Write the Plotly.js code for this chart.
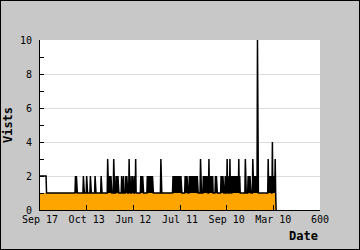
<!DOCTYPE html>
<html>
<head>
<meta charset="utf-8">
<script src="https://cdn.plot.ly/plotly-3.0.1.min.js"></script>
<style>
  html, body { margin: 0; padding: 0; background: #c8c8c8; }
  #chart { width: 358px; height: 248px; border: 1px solid #000; }
</style>
</head>
<body>
<div id="chart"></div>
<script>
// Day index of the last recorded day (visits drop to 0 there)
const lastDay = 506;
// Most days have 1 visit; these days differ
const daysAt2 = [0,1,2,3,4,5,6,7,8,9,10,11,12,13,
  76,78, 93,100,108,118,131, 148,150,152, 163,165,167, 175,179, 184,186,
  193,197,199, 203, 216,218,220, 230,232,234,237,239,241,
  285,287,289,291,293,296,298,300,302, 311,313,315,
  320,322,324,326,328,331,333,335,337, 350,352,354,356,358,
  364,366,368,370, 376,378, 388,390,392, 397,403,409,
  412,414,417,420,422,424, 428, 446,448,450, 459,461,463,
  491,493,495, 500,502];
const daysAt3 = [145,158,191,205,259,344,362,401,407,426,440,456,489,504];
const daysAt4 = [498];
const daysAt10 = [466];

const tickPositions = [0,100,200,300,400,500,600];
const tickLabels = ["Sep 17","Oct 13","Jun 12","Jul 11","Sep 10","Mar 10","600"];

const days = [];
const visits = [];
for (let d = 0; d <= lastDay; d++) { days.push(d); visits.push(1); }
daysAt2.forEach(d => visits[d] = 2);
daysAt3.forEach(d => visits[d] = 3);
daysAt4.forEach(d => visits[d] = 4);
daysAt10.forEach(d => visits[d] = 10);
visits[lastDay] = 0;
const base = visits.map(v => Math.min(v, 1));

const mono = 'DejaVu Sans Mono, monospace';

const traces = [
  { x: days, y: base, type: 'scatter', mode: 'lines', fill: 'tozeroy',
    fillcolor: '#ffa500', line: { width: 0, color: '#ffa500' }, hoverinfo: 'skip' },
  { x: days, y: visits, type: 'scatter', mode: 'lines',
    line: { width: 1.5, color: '#000' } }
];

const layout = {
  width: 358, height: 248,
  margin: { l: 39, r: 39, t: 39, b: 39 },
  paper_bgcolor: '#c8c8c8',
  plot_bgcolor: '#ffffff',
  showlegend: false,
  font: { family: mono, size: 10, color: '#000' },
  xaxis: {
    range: [0, 600], tickvals: tickPositions, ticktext: tickLabels,
    ticks: 'inside', ticklen: 5, tickcolor: '#000', tickwidth: 1,
    showline: true, linecolor: '#000', linewidth: 1,
    showgrid: false, zeroline: false, fixedrange: true,
    tickfont: { family: mono, size: 10, color: '#000' }
  },
  yaxis: {
    range: [0, 10], dtick: 2, tick0: 0,
    ticks: 'inside', ticklen: 4, tickcolor: '#000', tickwidth: 1,
    showline: true, linecolor: '#000', linewidth: 1,
    showgrid: true, gridcolor: '#dcdcdc', gridwidth: 1,
    zeroline: false, fixedrange: true, ticklabelstandoff: 5,
    minor: { dtick: 1, ticks: 'inside', ticklen: 4, tickcolor: '#000', showgrid: false },
    tickfont: { family: mono, size: 10, color: '#000' },
    title: { text: 'Vists', standoff: 6, font: { family: mono, size: 12, color: '#000', weight: 'bold' } }
  },
  annotations: [{
    text: 'Date', xref: 'paper', yref: 'paper', x: 1, y: -0.155,
    xanchor: 'right', yanchor: 'middle', showarrow: false,
    font: { family: mono, size: 12, color: '#000', weight: 'bold' }
  }]
};

Plotly.newPlot('chart', traces, layout, { staticPlot: true, displayModeBar: false });
</script>
</body>
</html>
